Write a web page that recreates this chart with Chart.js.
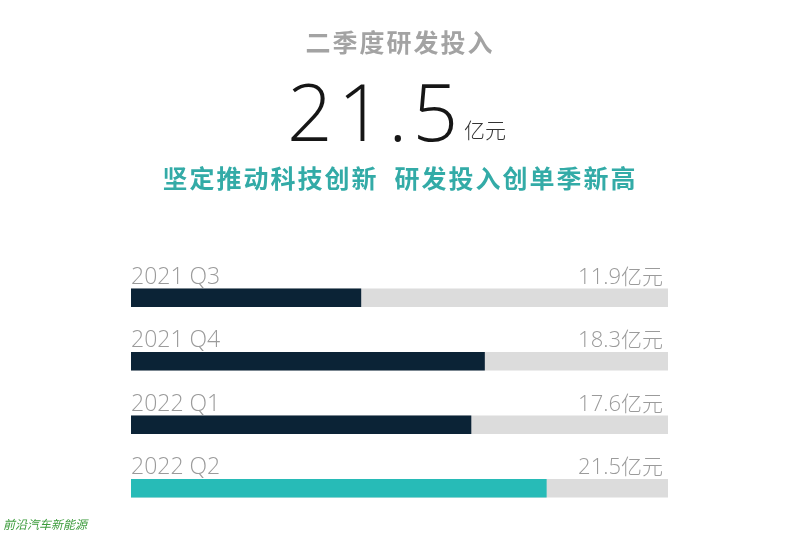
<!DOCTYPE html>
<html>
<head>
<meta charset="utf-8">
<script src="https://cdn.jsdelivr.net/npm/chart.js@4"></script>
<style>
  html, body { margin: 0; padding: 0; background: #fff; }
  #wrap { position: relative; width: 800px; height: 533px; overflow: hidden; }
  #chart { position: absolute; left: 0; top: 0; }
  .txt { position: absolute; white-space: nowrap; font-family: "Noto Sans CJK SC", "Noto Sans", sans-serif; }
  #head { left: 0; width: 800px; top: 23px; text-align: center; font-size: 25px; font-weight: 700; color: #a3a3a3; letter-spacing: 2px; }
  #big { left: 287px; top: 55px; font-family: "Open Sans", "Lato", sans-serif; font-weight: 300; font-size: 80px; color: #161616; letter-spacing: 5px; }
  #unit { left: 464px; top: 114px; font-size: 21px; color: #333; font-weight: 300; }
  #sub { left: 0; width: 800px; top: 159px; text-align: center; font-size: 25px; font-weight: 700; color: #33aba7; letter-spacing: 2px; }
  #sub span + span { margin-left: 16px; }
  #mark { left: 3px; top: 515px; font-size: 12px; font-style: italic; color: #3c9c3c; }
</style>
</head>
<body>
<div id="wrap">
  <canvas id="chart" width="800" height="533"></canvas>
  <div class="txt" id="head">二季度研发投入</div>
  <div class="txt" id="big">21.5</div>
  <div class="txt" id="unit">亿元</div>
  <div class="txt" id="sub"><span>坚定推动科技创新</span><span>研发投入创单季新高</span></div>
  <div class="txt" id="mark">前沿汽车新能源</div>
</div>
<script>
var quarters = ['2021 Q3', '2021 Q4', '2022 Q1', '2022 Q2'];
var rdSpend = [11.9, 18.3, 17.6, 21.5];
var barColors = ['#0b2336', '#0b2336', '#0b2336', '#27bbb7'];
var unitText = '亿元';
var trackMax = 27.8;

// labels over each bar: quarter on the left, value on the right
var barLabels = {
    id: 'barLabels',
    afterDatasetsDraw(chart) {
        const ctx = chart.ctx;
        const meta = chart.getDatasetMeta(0);
        const area = chart.chartArea;
        ctx.save();
        ctx.fillStyle = '#9b9b9b';
        ctx.textBaseline = 'alphabetic';
        meta.data.forEach((bar, i) => {
            const y = bar.y - 14;
            ctx.font = '300 23px "Open Sans", "Lato", sans-serif';
            ctx.textAlign = 'left';
            ctx.fillText(quarters[i], area.left, y);
            ctx.textAlign = 'right';
            const num = String(rdSpend[i]);
            ctx.font = '300 21px "Noto Sans CJK SC", sans-serif';
            const uw = ctx.measureText(unitText).width;
            ctx.fillText(unitText, area.right - 5, y);
            ctx.font = '300 22px "Open Sans", "Lato", sans-serif';
            ctx.fillText(num, area.right - 5 - uw, y);
        });
        ctx.restore();
    }
};

new Chart(document.getElementById('chart'), {
    type: 'bar',
    data: {
        labels: quarters,
        datasets: [
            {
                data: rdSpend,
                backgroundColor: barColors,
                barThickness: 18,
                order: 1
            },
            {
                data: quarters.map(() => trackMax),
                backgroundColor: '#dcdcdc',
                barThickness: 18,
                order: 2
            }
        ]
    },
    plugins: [barLabels],
    options: {
        indexAxis: 'y',
        responsive: false,
        animation: false,
        grouped: false,
        layout: { padding: { left: 131, right: 132, top: 266, bottom: 13 } },
        plugins: { legend: { display: false }, tooltip: { enabled: false } },
        scales: {
            x: { display: false, min: 0, max: trackMax },
            y: { display: false }
        }
    }
});
</script>
</body>
</html>
